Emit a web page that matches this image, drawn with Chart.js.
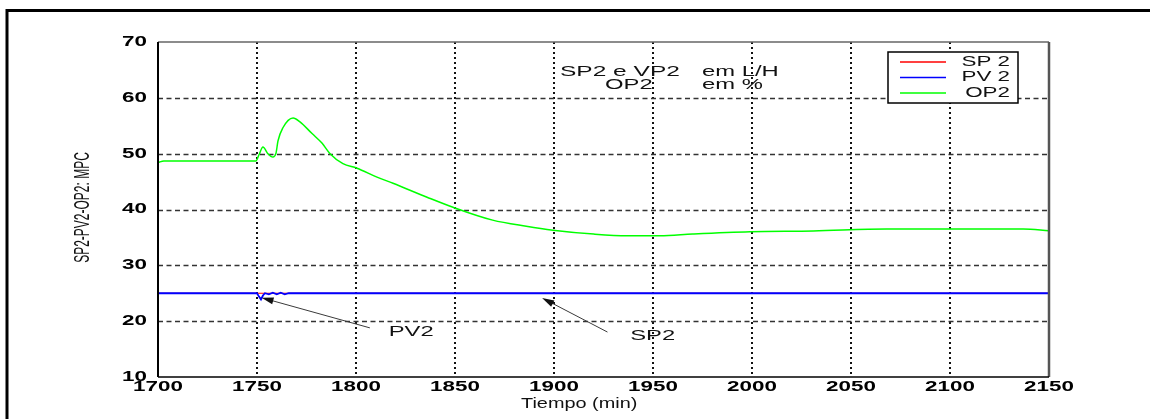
<!DOCTYPE html>
<html>
<head>
<meta charset="utf-8">
<title>SP2 PV2 OP2 MPC</title>
<script src="https://cdn.jsdelivr.net/npm/chart.js@4.4.0/dist/chart.umd.min.js"></script>
<style>
body { margin: 0; background: #fff; }
#wrap { width: 1150px; height: 419px; }
</style>
</head>
<body>
<div id="wrap"><canvas id="mpcChart" width="1150" height="419"></canvas></div>

<script>
// tiempo (min) y valores de cada lazo
var timeSP2 = [1700, 2150];
var valsSP2 = [25, 25];

var timePV2 = [1700, 1750, 1751, 1752, 1753, 1754, 1756, 1758, 1760, 1762, 1764, 1766, 1768, 2150];
var valsPV2 = [25, 25, 24.4, 23.9, 24.6, 25, 24.8, 25.1, 24.8, 25.1, 24.8, 25, 25, 25];

var timeOP2 = [1700, 1703, 1749.5, 1751, 1753, 1755.5, 1758, 1759.6, 1760.6, 1763, 1768.2, 1771.7,
               1777.8, 1782.8, 1786.9, 1793.4, 1800.5, 1810.6, 1818.7, 1835.9, 1849, 1869, 1886,
               1899.5, 1920, 1937, 1953.5, 1970, 1999, 2031, 2068, 2137, 2150];
var valsOP2 = [48.4, 48.7, 48.7, 49.8, 51.2, 50.0, 49.4, 50.1, 52.3, 54.6, 56.4, 55.7,
               53.6, 51.9, 50.0, 48.2, 47.4, 45.8, 44.7, 42.2, 40.4, 38.1, 37.0,
               36.3, 35.6, 35.3, 35.3, 35.6, 36.0, 36.15, 36.5, 36.5, 36.2];

var xTicks = [1700, 1750, 1800, 1850, 1900, 1950, 2000, 2050, 2100, 2150];
var yTicks = [10, 20, 30, 40, 50, 60, 70];
var seriesNames = ['SP 2', 'PV 2', 'OP2'];

function toPoints(ts, vs) {
  var out = [];
  for (var i = 0; i < ts.length; i++) out.push({x: ts[i], y: vs[i]});
  return out;
}

// texto estirado en x (las letras del grafico original son anchas)
function wideText(c, txt, x, y, font, sx, align, color) {
  c.save();
  c.font = font;
  c.fillStyle = color || '#000';
  c.textAlign = align || 'left';
  c.textBaseline = 'middle';
  c.translate(x, y);
  c.scale(sx, 1);
  c.fillText(txt, 0, 0);
  c.restore();
}

function arrow(c, x1, y1, x2, y2) {
  var a = Math.atan2(y2 - y1, x2 - x1), len = 12, w = 3.5;
  c.save();
  c.strokeStyle = '#3a3a3a';
  c.lineWidth = 1;
  c.beginPath(); c.moveTo(x1, y1); c.lineTo(x2 - Math.cos(a) * 6, y2 - Math.sin(a) * 6); c.stroke();
  c.fillStyle = '#111';
  c.beginPath();
  c.moveTo(x2, y2);
  c.lineTo(x2 - len * Math.cos(a) + w * Math.sin(a), y2 - len * Math.sin(a) - w * Math.cos(a));
  c.lineTo(x2 - len * Math.cos(a) - w * Math.sin(a), y2 - len * Math.sin(a) + w * Math.cos(a));
  c.closePath(); c.fill();
  c.restore();
}

var FONT = '"Liberation Sans", Arial, sans-serif';

// rejilla estilo matlab: punteada en x, rayada en y
var gridLines = {
  id: 'gridLines',
  beforeDatasetsDraw: function(chart) {
    var c = chart.ctx, a = chart.chartArea;
    var xs = chart.scales.x, ys = chart.scales.y;
    c.save();
    c.strokeStyle = '#111';
    c.lineWidth = 2;
    c.setLineDash([2, 3]);
    xTicks.slice(1, -1).forEach(function(t) {
      var px = Math.round(xs.getPixelForValue(t));
      c.beginPath(); c.moveTo(px, a.top); c.lineTo(px, a.bottom); c.stroke();
    });
    c.strokeStyle = '#333';
    c.lineWidth = 1.3;
    c.setLineDash([5, 3.5]);
    yTicks.slice(1, -1).forEach(function(v) {
      var py = Math.round(ys.getPixelForValue(v)) + 0.5;
      c.beginPath(); c.moveTo(a.left, py); c.lineTo(a.right, py); c.stroke();
    });
    c.restore();
  }
};

var decor = {
  id: 'decor',
  afterDraw: function(chart) {
    var c = chart.ctx, a = chart.chartArea;
    var xs = chart.scales.x, ys = chart.scales.y;

    // marco exterior (solo arriba e izquierda)
    c.save();
    c.strokeStyle = '#000';
    c.lineWidth = 3;
    c.beginPath(); c.moveTo(1150, 10.5); c.lineTo(7, 10.5); c.lineTo(7, 419); c.stroke();

    // bordes de los ejes
    c.lineWidth = 1.5;
    c.strokeStyle = '#666';
    c.beginPath(); c.moveTo(a.left, a.top); c.lineTo(a.right, a.top); c.stroke();
    c.lineWidth = 2.5;
    c.strokeStyle = '#555';
    c.beginPath(); c.moveTo(a.right, a.top); c.lineTo(a.right, a.bottom); c.stroke();
    c.strokeStyle = '#000';
    c.lineWidth = 2;
    c.beginPath(); c.moveTo(a.left, a.top); c.lineTo(a.left, a.bottom); c.stroke();
    c.lineWidth = 1.5;
    c.beginPath(); c.moveTo(a.left, a.bottom); c.lineTo(a.right, a.bottom); c.stroke();
    c.restore();

    // etiquetas de los ejes
    xTicks.forEach(function(t) {
      wideText(c, String(t), xs.getPixelForValue(t), a.bottom + 10, 'bold 14px ' + FONT, 1.6, 'center');
    });
    yTicks.forEach(function(v) {
      wideText(c, String(v), a.left - 11, ys.getPixelForValue(v), 'bold 14px ' + FONT, 1.6, 'right');
    });
    wideText(c, 'Tiempo (min)', a.left + 363, a.bottom + 27, '14px ' + FONT, 1.42, 'left', '#111');

    c.save();
    c.translate(a.left - 75, (a.top + a.bottom) / 2 - 2);
    c.scale(1.8, 1);
    c.rotate(-Math.PI / 2);
    c.font = '12px ' + FONT;
    c.fillStyle = '#111';
    c.textAlign = 'center';
    c.textBaseline = 'middle';
    c.fillText('SP2-PV2-OP2: MPC', 0, 0);
    c.restore();

    // unidades
    var uf = '14px ' + FONT;
    wideText(c, 'SP2 e VP2', a.left + 402, a.top + 30, uf, 1.75, 'left', '#111');
    wideText(c, 'em L/H', a.left + 544, a.top + 30, uf, 1.7, 'left', '#111');
    wideText(c, 'OP2', a.left + 447, a.top + 43, uf, 1.7, 'left', '#111');
    wideText(c, 'em %', a.left + 544, a.top + 43, uf, 1.7, 'left', '#111');

    // flechas PV2 / SP2
    arrow(c, xs.getPixelForValue(1807), ys.getPixelForValue(18.8), xs.getPixelForValue(1752.3), ys.getPixelForValue(24.2));
    wideText(c, 'PV2', xs.getPixelForValue(1816.5), ys.getPixelForValue(18.0), uf, 1.7, 'left', '#111');
    arrow(c, xs.getPixelForValue(1927), ys.getPixelForValue(18.05), xs.getPixelForValue(1894), ys.getPixelForValue(24.15));
    wideText(c, 'SP2', xs.getPixelForValue(1938.5), ys.getPixelForValue(17.3), uf, 1.7, 'left', '#111');

    // leyenda
    var bx = a.right - 161, by = a.top + 10, bw = 130, bh = 51;
    c.save();
    c.fillStyle = '#fff';
    c.fillRect(bx, by, bw, bh);
    c.strokeStyle = '#000';
    c.lineWidth = 1.5;
    c.strokeRect(bx, by, bw, bh);
    chart.data.datasets.forEach(function(ds, i) {
      var ly = by + 10 + i * 15.5;
      c.strokeStyle = ds.borderColor;
      c.lineWidth = 1.5;
      c.beginPath(); c.moveTo(bx + 12, ly); c.lineTo(bx + 58, ly); c.stroke();
      wideText(c, seriesNames[i], bx + 122, ly, uf, 1.6, 'right', '#111');
    });
    c.restore();
  }
};

new Chart(document.getElementById('mpcChart').getContext('2d'), {
  type: 'line',
  data: {
    datasets: [
      { label: seriesNames[0], data: toPoints(timeSP2, valsSP2), borderColor: '#ff0000', borderWidth: 1.2, pointRadius: 0, tension: 0, order: 2 },
      { label: seriesNames[1], data: toPoints(timePV2, valsPV2), borderColor: '#0000ff', borderWidth: 1.8, pointRadius: 0, tension: 0, order: 1 },
      { label: seriesNames[2], data: toPoints(timeOP2, valsOP2), borderColor: '#00ff00', borderWidth: 1.5, pointRadius: 0,
        cubicInterpolationMode: 'monotone', order: 0 }
    ]
  },
  options: {
    responsive: false,
    animation: false,
    events: [],
    layout: { padding: { left: 158, right: 101, top: 42, bottom: 42 } },
    plugins: { legend: { display: false }, tooltip: { enabled: false } },
    scales: {
      x: {
        type: 'linear',
        min: xTicks[0], max: xTicks[xTicks.length - 1],
        ticks: { stepSize: 50, display: false },
        grid: { display: false, drawTicks: false },
        border: { display: false }
      },
      y: {
        min: yTicks[0], max: yTicks[yTicks.length - 1],
        ticks: { stepSize: 10, display: false },
        grid: { display: false, drawTicks: false },
        border: { display: false }
      }
    }
  },
  plugins: [gridLines, decor]
});
</script>
</body>
</html>
